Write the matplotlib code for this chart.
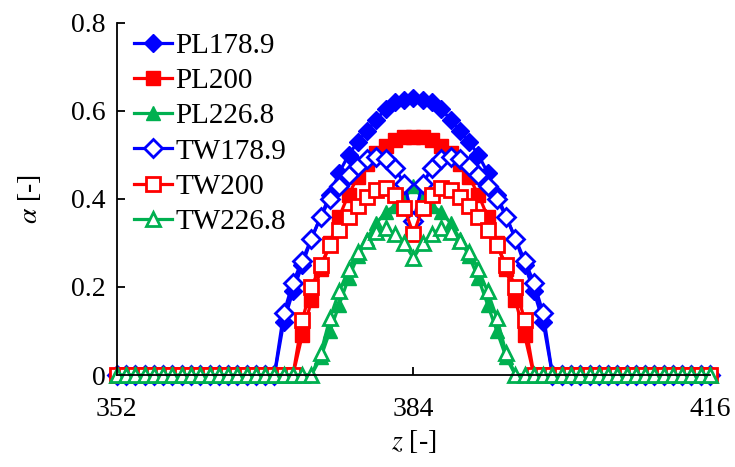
import numpy as np
import matplotlib.pyplot as plt

plt.rcParams['font.family'] = ['Liberation Serif', 'DejaVu Serif']
plt.rcParams['mathtext.fontset'] = 'stix'

z = np.arange(352, 417)

# nonzero part of each profile, first value at z = start
pl1789_start = 370
pl1789 = [0.12, 0.19, 0.25, 0.31, 0.36, 0.41, 0.46, 0.50, 0.53, 0.555, 0.58, 0.605, 0.62, 0.625, 0.63,
          0.625, 0.62, 0.605, 0.58, 0.555, 0.53, 0.50, 0.46, 0.41, 0.36, 0.31, 0.25, 0.19, 0.12]
pl200_start = 372
pl200 = [0.09, 0.17, 0.24, 0.30, 0.36, 0.41, 0.45, 0.48, 0.505, 0.52, 0.535, 0.54, 0.54,
         0.54, 0.535, 0.52, 0.505, 0.48, 0.45, 0.41, 0.36, 0.30, 0.24, 0.17, 0.09]
pl2268_start = 374
pl2268 = [0.04, 0.10, 0.16, 0.22, 0.27, 0.31, 0.345, 0.37, 0.385, 0.40, 0.43,
          0.40, 0.385, 0.37, 0.345, 0.31, 0.27, 0.22, 0.16, 0.10, 0.04]
tw1789_start = 370
tw1789 = [0.14, 0.21, 0.26, 0.31, 0.36, 0.40, 0.43, 0.455, 0.475, 0.49, 0.495, 0.49, 0.47, 0.435, 0.35,
          0.435, 0.47, 0.49, 0.495, 0.49, 0.475, 0.455, 0.43, 0.40, 0.36, 0.31, 0.26, 0.21, 0.14]
tw200_start = 372
tw200 = [0.125, 0.20, 0.25, 0.295, 0.33, 0.36, 0.385, 0.405, 0.42, 0.425, 0.41, 0.38, 0.32,
         0.38, 0.41, 0.425, 0.42, 0.405, 0.385, 0.36, 0.33, 0.295, 0.25, 0.20, 0.125]
tw2268_start = 374
tw2268 = [0.05, 0.13, 0.19, 0.24, 0.28, 0.305, 0.325, 0.335, 0.32, 0.30, 0.265,
          0.30, 0.32, 0.335, 0.325, 0.305, 0.28, 0.24, 0.19, 0.13, 0.05]


def profile(start, vals):
    a = np.zeros(len(z))
    i = start - z[0]
    a[i:i+len(vals)] = vals
    return a


blue = '#0000ff'
red = '#ff0000'
green = '#00b050'

fig = plt.figure(figsize=(7.35, 4.67), dpi=100)
ax = fig.add_axes([0.159, 0.197, 0.807, 0.754])

kw = dict(lw=2.3, ms=9.5, clip_on=False)
ax.plot(z, profile(pl1789_start, pl1789), '-D', color=blue, label='PL178.9', **kw)
ax.plot(z, profile(pl200_start, pl200), '-s', color=red, label='PL200', **kw)
ax.plot(z, profile(pl2268_start, pl2268), '-^', color=green, label='PL226.8', **kw)
ax.plot(z, profile(tw1789_start, tw1789), '-D', color=blue, mfc='white', mew=2, label='TW178.9', **kw)
ax.plot(z, profile(tw200_start, tw200), '-s', color=red, mfc='white', mew=2, label='TW200', **kw)
ax.plot(z, profile(tw2268_start, tw2268), '-^', color=green, mfc='white', mew=2, label='TW226.8', **kw)

ax.set_xlim(352, 416)
ax.set_ylim(0, 0.8)
ax.set_xticks([352, 384, 416])
ax.set_yticks([0, 0.2, 0.4, 0.6, 0.8])
ax.set_yticklabels(['0', '0.2', '0.4', '0.6', '0.8'])
ax.tick_params(direction='in', labelsize=20, width=1.3, length=6)
ax.tick_params(axis='x', pad=16)
ax.tick_params(axis='y', pad=8)
ax.spines['top'].set_visible(False)
ax.spines['right'].set_visible(False)
ax.spines['left'].set_linewidth(1.3)
ax.spines['bottom'].set_linewidth(1.3)

ax.set_xlabel(r'$z$ [-]', fontsize=20, labelpad=4)
ax.set_ylabel(r'$\alpha$ [-]', fontsize=20, labelpad=20)

ax.legend(loc='upper left', bbox_to_anchor=(-0.005, 1.03), frameon=False, fontsize=21,
          handlelength=1.3, handletextpad=0.1, labelspacing=0.3, borderaxespad=0.3)

plt.savefig('out.png', dpi=100)
